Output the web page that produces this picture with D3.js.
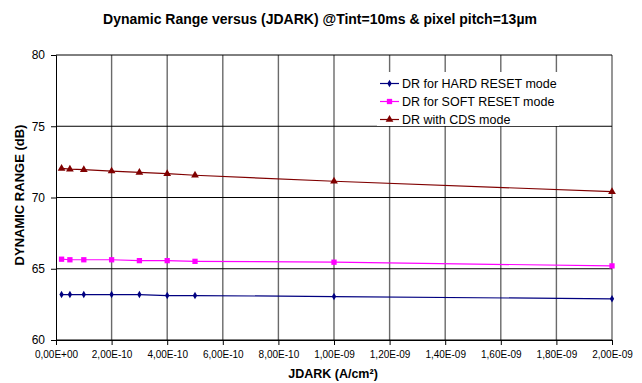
<!DOCTYPE html>
<html>
<head>
<meta charset="utf-8">
<script src="https://cdn.jsdelivr.net/npm/d3@7"></script>
<style>
  body { margin: 0; background: #fff; }
  text { font-family: "Liberation Sans", Arial, sans-serif; fill: #000; }
</style>
</head>
<body>
<div id="chart"></div>
<script>
// JDARK values (A/cm²)
var jdark = [2e-11, 5e-11, 1e-10, 2e-10, 3e-10, 4e-10, 5e-10, 1e-9, 2e-9];
var hardReset = [63.19, 63.19, 63.19, 63.19, 63.19, 63.12, 63.12, 63.05, 62.89];
var softReset = [65.67, 65.63, 65.63, 65.63, 65.57, 65.57, 65.52, 65.46, 65.2];
var cdsMode = [72.04, 71.99, 71.95, 71.85, 71.76, 71.67, 71.56, 71.14, 70.41];
var seriesNames = ["DR for HARD RESET mode", "DR for SOFT RESET mode", "DR with CDS mode"];
var xTicks = [0, 2e-10, 4e-10, 6e-10, 8e-10, 1e-9, 1.2e-9, 1.4e-9, 1.6e-9, 1.8e-9, 2e-9];
var yTicks = [60, 65, 70, 75, 80];

const width = 642;
const height = 383;
const mLeft = 56, mRight = 612, mTop = 55, mBottom = 340;

var svg = d3.select("#chart").append("svg").attr("width", width).attr("height", height);

var x = d3.scaleLinear().domain([0, 2e-9]).range([mLeft, mRight]);
var y = d3.scaleLinear().domain([60, 80]).range([mBottom, mTop]);

// vertical gridlines (grey)
svg.selectAll(".vgrid")
  .data(xTicks.slice(1))
  .enter().append("line")
  .attr("x1", d => x(d)).attr("x2", d => x(d))
  .attr("y1", mTop).attr("y2", mBottom)
  .attr("stroke", "#6a6a6a")
  .attr("stroke-width", 1.4);

// horizontal gridlines (black)
svg.selectAll(".hgrid")
  .data(yTicks)
  .enter().append("line")
  .attr("x1", mLeft).attr("x2", mRight)
  .attr("y1", d => y(d)).attr("y2", d => y(d))
  .attr("stroke", "#000")
  .attr("stroke-width", 1);

// excel style "2,00E-10"
function fmt(d) {
  var parts = d3.format(".2e")(d).split("e");
  var exp = +parts[1];
  var sign = exp < 0 ? "-" : "+";
  return parts[0].replace(".", ",") + "E" + sign + String(Math.abs(exp)).padStart(2, "0");
}

svg.append("g")
  .attr("transform", `translate(0,${mBottom})`)
  .call(d3.axisBottom(x).tickValues(xTicks).tickSize(5).tickPadding(6).tickFormat(fmt))
  .call(g => g.selectAll("text").style("font-size", "10px").attr("fill", "#000"))
  .call(g => g.selectAll("line, path").attr("stroke", "#000"));

svg.append("g")
  .attr("transform", `translate(${mLeft},0)`)
  .call(d3.axisLeft(y).tickValues(yTicks).tickSize(5).tickPadding(6).tickFormat(d3.format("d")))
  .call(g => g.selectAll("text").style("font-size", "12px").attr("fill", "#000"))
  .call(g => g.selectAll("line, path").attr("stroke", "#000"));

// series
var series = [
  { name: seriesNames[0], values: hardReset, color: "#000080", symbol: d3.symbolDiamond, size: 16 },
  { name: seriesNames[1], values: softReset, color: "#ff00ff", symbol: d3.symbolSquare, size: 28 },
  { name: seriesNames[2], values: cdsMode, color: "#800000", symbol: d3.symbolTriangle, size: 26 }
];

var line = d3.line().x(d => x(d[0])).y(d => y(d[1]));

series.forEach(function(s) {
  var pts = jdark.map((j, i) => [j, s.values[i]]);
  svg.append("path")
    .attr("d", line(pts))
    .attr("fill", "none")
    .attr("stroke", s.color)
    .attr("stroke-width", 1.2);
  svg.selectAll(null)
    .data(pts)
    .enter().append("path")
    .attr("d", d3.symbol().type(s.symbol).size(s.size))
    .attr("transform", d => `translate(${x(d[0])},${y(d[1])})`)
    .attr("fill", s.color);
});

// legend
svg.append("rect")
  .attr("x", 377).attr("y", 72)
  .attr("width", 182).attr("height", 54)
  .attr("fill", "#fff");

series.forEach(function(s, i) {
  var ly = 83.5 + i * 18;
  svg.append("line")
    .attr("x1", 380).attr("x2", 399)
    .attr("y1", ly).attr("y2", ly)
    .attr("stroke", s.color)
    .attr("stroke-width", 1.2);
  svg.append("path")
    .attr("d", d3.symbol().type(s.symbol).size(s.size))
    .attr("transform", `translate(389.5,${ly})`)
    .attr("fill", s.color);
  svg.append("text")
    .attr("x", 402).attr("y", ly + 4.5)
    .text(s.name)
    .style("font-size", "12.5px");
});

// titles
svg.append("text")
  .attr("x", 320).attr("y", 23.5)
  .text("Dynamic Range versus (JDARK) @Tint=10ms & pixel pitch=13µm")
  .style("font-size", "14px")
  .style("font-weight", "bold")
  .style("text-anchor", "middle");

svg.append("text")
  .attr("x", 333).attr("y", 378)
  .text("JDARK (A/cm²)")
  .style("font-size", "12.5px")
  .style("font-weight", "bold")
  .style("text-anchor", "middle");

svg.append("text")
  .attr("transform", "translate(23.5,195) rotate(-90)")
  .text("DYNAMIC RANGE (dB)")
  .style("font-size", "13px")
  .style("font-weight", "bold")
  .style("text-anchor", "middle");
</script>
</body>
</html>
